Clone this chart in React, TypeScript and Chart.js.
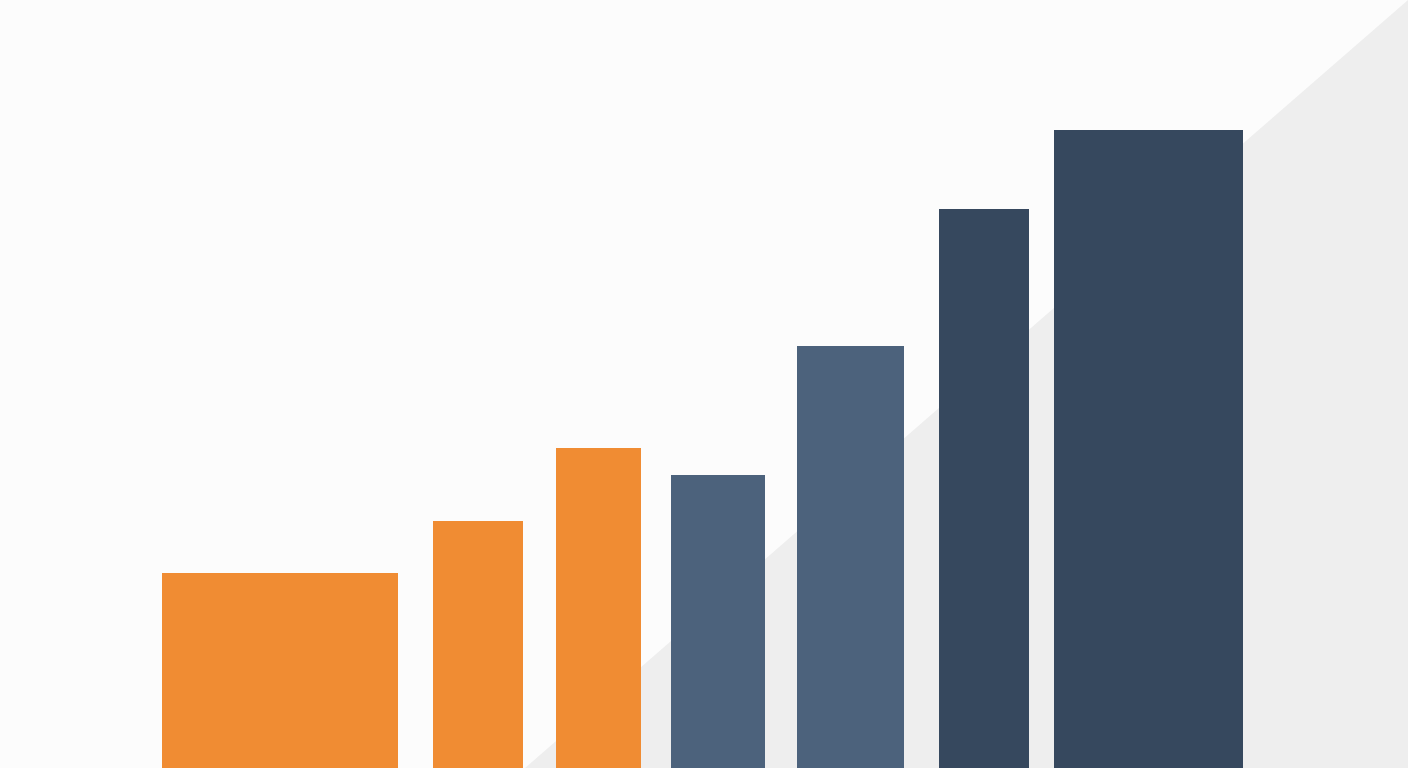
import React, { useEffect, useRef } from 'react';
import Chart from 'chart.js/auto';

// bar edges along the x axis and bar heights (same units, 0..1408 by 0..768)
const barStarts = [162, 433, 556, 671, 797, 939, 1054];
const barEnds = [398, 523, 641, 765, 904, 1029, 1243];
const barValues = [195, 247, 320, 293, 422, 559, 638];

// background diagonal, from bottom to top-right corner
const trendX = [525, 1408];
const trendY = [0, 768];

const barColors = ['#f08c33', '#f08c33', '#f08c33', '#4c627c', '#4c627c', '#36485e', '#36485e'];

const App: React.FC = () => {
  const chartRef = useRef<HTMLCanvasElement>(null);
  const chartInstance = useRef<Chart | null>(null);

  useEffect(() => {
    document.body.style.margin = '0';
    document.body.style.overflow = 'hidden';

    if (chartRef.current) {
      if (chartInstance.current) {
        chartInstance.current.destroy();
      }

      const ctx = chartRef.current.getContext('2d');
      if (ctx) {
        // each bar is a filled outline so every bar can have its own width
        const bars = barValues.map((v, i) => ({
          label: 'bar ' + (i + 1),
          data: [
            { x: barStarts[i], y: 0 },
            { x: barStarts[i], y: v },
            { x: barEnds[i], y: v },
            { x: barEnds[i], y: 0 },
          ],
          backgroundColor: barColors[i],
          borderColor: 'rgba(0,0,0,0)',
          borderWidth: 0,
          pointRadius: 0,
          fill: 'origin' as const,
          tension: 0,
          order: 1,
        }));

        chartInstance.current = new Chart(ctx, {
          type: 'line',
          data: {
            datasets: [
              ...bars,
              {
                label: 'trend',
                data: trendX.map((x, i) => ({ x, y: trendY[i] })),
                backgroundColor: '#eeeeee',
                borderColor: 'rgba(0,0,0,0)',
                borderWidth: 0,
                pointRadius: 0,
                fill: 'origin',
                tension: 0,
                order: 10,
              },
            ],
          },
          options: {
            animation: false,
            responsive: true,
            maintainAspectRatio: false,
            layout: { padding: 0 },
            plugins: {
              legend: { display: false },
              tooltip: { enabled: false },
            },
            scales: {
              x: { type: 'linear', min: 0, max: 1408, display: false },
              y: { min: 0, max: 768, display: false },
            },
          },
        });
      }
    }

    return () => {
      if (chartInstance.current) {
        chartInstance.current.destroy();
        chartInstance.current = null;
      }
    };
  }, []);

  return (
    <div style={{ width: '1408px', height: '768px', background: '#fcfcfc' }}>
      <canvas ref={chartRef}></canvas>
    </div>
  );
};

export default App;
